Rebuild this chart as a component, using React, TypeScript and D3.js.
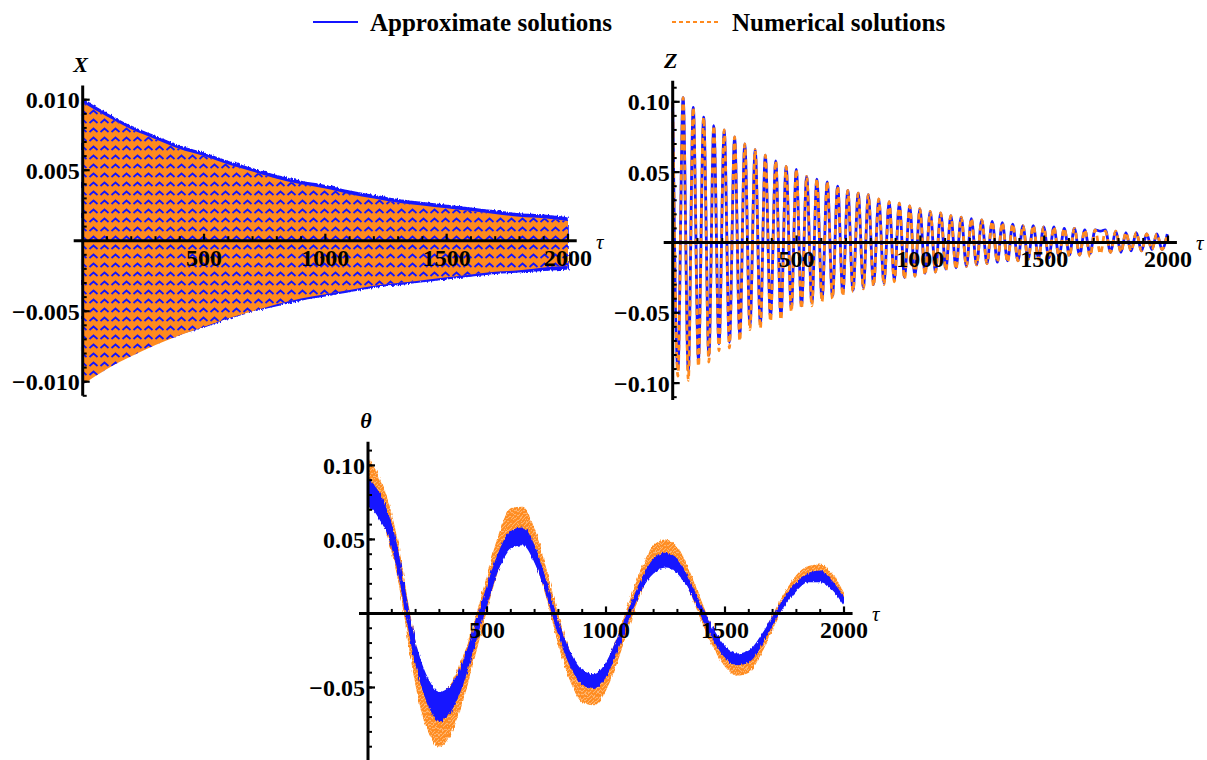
import React, { useEffect, useRef } from "react";
import * as d3 from "d3";

// ---- shared axis ticks ----
const tauTicks = [500, 1000, 1500, 2000];
const tauMinor = [100, 200, 300, 400, 600, 700, 800, 900, 1100, 1200, 1300, 1400, 1600, 1700, 1800, 1900];

// ---- X panel: envelope of the fast oscillation ----
const xEnvTau = [0, 100, 200, 300, 400, 500, 600, 700, 800, 900, 1000, 1100, 1200, 1300, 1400, 1500, 1600, 1700, 1800, 1900, 2000];
const xApproxUpper = [0.0100, 0.0090, 0.0081, 0.0074, 0.0067, 0.0062, 0.0056, 0.0051, 0.0046, 0.0042, 0.0039, 0.0035, 0.0032, 0.0029, 0.0027, 0.0025, 0.0023, 0.0021, 0.0019, 0.0018, 0.0016];
const xApproxLower = [-0.0097, -0.0087, -0.0079, -0.0072, -0.0066, -0.0061, -0.0055, -0.0050, -0.0046, -0.0042, -0.0039, -0.0036, -0.0033, -0.0031, -0.0029, -0.0027, -0.0025, -0.0023, -0.0022, -0.0021, -0.0020];
const xNumerUpper = [0.0098, 0.0088, 0.0079, 0.0072, 0.0065, 0.0060, 0.0054, 0.0049, 0.0044, 0.0040, 0.0037, 0.0033, 0.0030, 0.0027, 0.0025, 0.0023, 0.0021, 0.0019, 0.0017, 0.0016, 0.0014];
const xNumerLower = [-0.0102, -0.0091, -0.0082, -0.0074, -0.0067, -0.0061, -0.0055, -0.0050, -0.0045, -0.0041, -0.0038, -0.0035, -0.0032, -0.0030, -0.0028, -0.0026, -0.0024, -0.0022, -0.0021, -0.0019, -0.0018];
const xTicks = [-0.01, -0.005, 0.005, 0.01];
const xTickLabels = ["\u22120.010", "\u22120.005", "0.005", "0.010"];

// ---- Z panel: extrema of each cycle (max, min, max, ...) ----
const zTau = [0, 21, 42, 63, 83, 104, 125, 146, 166, 187, 208, 229, 250, 271, 291, 312, 333, 354, 374, 395, 416, 437, 458, 479, 499, 520, 541, 562, 582, 603, 624, 645, 666, 687, 707, 728, 749, 770, 790, 811, 832, 853, 874, 895, 915, 936, 957, 978, 998, 1019, 1040, 1061, 1082, 1103, 1123, 1144, 1165, 1186, 1206, 1227, 1248, 1269, 1290, 1311, 1331, 1352, 1373, 1394, 1414, 1435, 1456, 1477, 1498, 1519, 1539, 1560, 1581, 1602, 1622, 1643, 1664, 1685, 1706, 1727, 1747, 1768, 1789, 1810, 1830, 1851, 1872, 1893, 1914, 1935, 1955, 1976, 1997];
const zApprox = [
  0.100, -0.090, 0.103, -0.091, 0.096, -0.083, 0.089, -0.080, 0.083, -0.072, 0.080, -0.071,
  0.075, -0.066, 0.070, -0.059, 0.066, -0.058, 0.062, -0.053, 0.058, -0.052, 0.054, -0.047,
  0.052, -0.045, 0.047, -0.043, 0.045, -0.040, 0.043, -0.038, 0.040, -0.036, 0.037, -0.034,
  0.035, -0.032, 0.034, -0.030, 0.031, -0.029, 0.029, -0.027, 0.028, -0.025, 0.026, -0.024,
  0.024, -0.022, 0.022, -0.021, 0.021, -0.019, 0.019, -0.018, 0.018, -0.017, 0.017, -0.016,
  0.016, -0.015, 0.015, -0.014, 0.014, -0.013, 0.013, -0.013, 0.012, -0.012, 0.012, -0.011,
  0.011, -0.011, 0.011, -0.010, 0.010, -0.009, 0.010, -0.009, 0.009, -0.008, 0.009, 0.008,
  0.009, -0.007, 0.008, -0.007, 0.007, -0.006, 0.007, -0.006, 0.006, -0.005, 0.006, -0.005,
  0.006,
];
const zNumer = [
  0.100, -0.095, 0.103, -0.098, 0.096, -0.088, 0.089, -0.085, 0.083, -0.077, 0.080, -0.075,
  0.075, -0.070, 0.070, -0.062, 0.066, -0.061, 0.062, -0.056, 0.058, -0.055, 0.054, -0.049,
  0.052, -0.047, 0.047, -0.045, 0.045, -0.042, 0.043, -0.040, 0.040, -0.038, 0.037, -0.035,
  0.035, -0.033, 0.034, -0.031, 0.031, -0.030, 0.029, -0.028, 0.028, -0.026, 0.026, -0.024,
  0.024, -0.023, 0.022, -0.021, 0.021, -0.020, 0.019, -0.019, 0.018, -0.017, 0.017, -0.016,
  0.016, -0.015, 0.015, -0.014, 0.014, -0.014, 0.013, -0.013, 0.012, -0.012, 0.012, -0.012,
  0.011, -0.011, 0.011, -0.010, 0.010, -0.010, 0.010, -0.009, 0.009, -0.010, 0.009, -0.008,
  0.008, -0.007, 0.008, -0.007, 0.007, -0.006, 0.007, -0.006, 0.006, -0.005, 0.006, -0.005,
  0.006,
];
const zTicks = [-0.1, -0.05, 0.05, 0.1];
const zTickLabels = ["\u22120.10", "\u22120.05", "0.05", "0.10"];

// ---- theta panel: slow wave (centre) and ripple half-width ----
const thetaTau = [0, 25, 50, 75, 100, 125, 150, 175, 200, 250, 300, 350, 400, 450, 500, 550, 600, 650, 700, 750, 800, 850, 900, 950, 1000, 1050, 1100, 1150, 1200, 1250, 1300, 1350, 1400, 1450, 1500, 1550, 1600, 1650, 1700, 1750, 1800, 1850, 1900, 1950, 2000];
const thetaApprox = [0.082, 0.078, 0.072, 0.064, 0.052, 0.036, 0.014, -0.008, -0.027, -0.052, -0.063, -0.057, -0.040, -0.014, 0.012, 0.036, 0.050, 0.052, 0.040, 0.017, -0.010, -0.031, -0.043, -0.046, -0.038, -0.020, 0.001, 0.020, 0.032, 0.036, 0.032, 0.019, 0.002, -0.014, -0.026, -0.031, -0.029, -0.019, -0.005, 0.008, 0.018, 0.024, 0.025, 0.019, 0.008];
const thetaApproxW = [0.010, 0.009, 0.009, 0.008, 0.008, 0.008, 0.008, 0.008, 0.008, 0.009, 0.010, 0.009, 0.008, 0.007, 0.007, 0.006, 0.006, 0.006, 0.006, 0.005, 0.005, 0.005, 0.005, 0.005, 0.005, 0.005, 0.004, 0.004, 0.005, 0.005, 0.005, 0.004, 0.004, 0.004, 0.004, 0.004, 0.004, 0.004, 0.003, 0.003, 0.003, 0.003, 0.004, 0.003, 0.003];
const thetaNumer = [0.092, 0.086, 0.078, 0.068, 0.054, 0.036, 0.013, -0.012, -0.034, -0.062, -0.072, -0.064, -0.044, -0.016, 0.014, 0.042, 0.059, 0.060, 0.046, 0.020, -0.011, -0.036, -0.050, -0.052, -0.043, -0.023, 0.001, 0.023, 0.038, 0.042, 0.037, 0.022, 0.002, -0.017, -0.030, -0.036, -0.034, -0.023, -0.006, 0.010, 0.022, 0.028, 0.029, 0.023, 0.011];
const thetaNumerW = [0.013, 0.013, 0.013, 0.013, 0.013, 0.013, 0.013, 0.014, 0.015, 0.017, 0.018, 0.017, 0.015, 0.013, 0.012, 0.012, 0.012, 0.012, 0.011, 0.010, 0.010, 0.010, 0.010, 0.010, 0.009, 0.009, 0.008, 0.008, 0.008, 0.008, 0.008, 0.007, 0.007, 0.006, 0.006, 0.006, 0.006, 0.005, 0.005, 0.004, 0.004, 0.004, 0.004, 0.004, 0.003];
const thetaTicks = [-0.05, 0.05, 0.1];
const thetaTickLabels = ["\u22120.05", "0.05", "0.10"];

const BLUE = "#1414ff";
const ORANGE = "#ff8a1e";
const FONT = "'Liberation Serif', 'Times New Roman', serif";
const TICK_FS = 24;

type Sel = d3.Selection<SVGGElement, unknown, null, undefined>;

function drawAxes(
  g: Sel,
  x: d3.ScaleLinear<number, number>,
  y: d3.ScaleLinear<number, number>,
  yTicks: number[],
  yLabels: string[],
  yMinorStep: number,
  name: string,
  nameY: number
) {
  const [yBot, yTop] = y.range();
  const x0 = x(0);
  const y0 = y(0);
  const [dLo, dHi] = y.domain();

  g.append("line")
    .attr("x1", x0 - 9).attr("x2", x(2036))
    .attr("y1", y0).attr("y2", y0)
    .attr("stroke", "#000").attr("stroke-width", 3);
  g.append("line")
    .attr("x1", x0).attr("x2", x0)
    .attr("y1", yTop).attr("y2", yBot)
    .attr("stroke", "#000").attr("stroke-width", 3);

  // x ticks
  g.selectAll(".xminor").data(tauMinor).enter().append("line")
    .attr("x1", (d) => x(d)).attr("x2", (d) => x(d))
    .attr("y1", y0).attr("y2", y0 - 4.5)
    .attr("stroke", "#000").attr("stroke-width", 2);
  g.selectAll(".xmajor").data(tauTicks).enter().append("line")
    .attr("x1", (d) => x(d)).attr("x2", (d) => x(d))
    .attr("y1", y0).attr("y2", y0 - 7)
    .attr("stroke", "#000").attr("stroke-width", 2.2);
  g.selectAll(".xlab").data(tauTicks).enter().append("text")
    .attr("x", (d) => x(d)).attr("y", y0 + 25)
    .attr("text-anchor", "middle")
    .attr("font-family", FONT).attr("font-weight", "bold").attr("font-size", TICK_FS)
    .text((d) => String(d));

  // y ticks
  const minor: number[] = [];
  for (let v = Math.ceil(dLo / yMinorStep) * yMinorStep; v <= dHi; v += yMinorStep) {
    if (Math.abs(v) > yMinorStep / 2) minor.push(v);
  }
  g.selectAll(".yminor").data(minor).enter().append("line")
    .attr("x1", x0).attr("x2", x0 + 4)
    .attr("y1", (d) => y(d)).attr("y2", (d) => y(d))
    .attr("stroke", "#000").attr("stroke-width", 2);
  g.selectAll(".ymajor").data(yTicks).enter().append("line")
    .attr("x1", x0).attr("x2", x0 + 7)
    .attr("y1", (d) => y(d)).attr("y2", (d) => y(d))
    .attr("stroke", "#000").attr("stroke-width", 2.2);
  g.selectAll(".ylab").data(yTicks).enter().append("text")
    .attr("x", x0 - 3).attr("y", (d) => y(d))
    .attr("dy", "0.35em")
    .attr("text-anchor", "end")
    .attr("font-family", FONT).attr("font-weight", "bold").attr("font-size", TICK_FS)
    .text((_, i) => yLabels[i]);

  g.append("text")
    .attr("x", x0 - 2).attr("y", nameY)
    .attr("text-anchor", "middle")
    .attr("font-family", FONT).attr("font-weight", "bold").attr("font-style", "italic")
    .attr("font-size", 22)
    .text(name);
  // tau sits just right of the last tick label, raised like a superscript
  g.append("text")
    .attr("x", x(2000) + TICK_FS + 4).attr("y", y0 + 8)
    .attr("text-anchor", "start")
    .attr("font-family", FONT).attr("font-style", "italic")
    .attr("font-size", 21)
    .text("\u03c4");
}

const App: React.FC = () => {
  const svgRef = useRef<SVGSVGElement | null>(null);

  useEffect(() => {
    if (!svgRef.current) return;
    const svg = d3.select(svgRef.current);
    svg.selectAll("*").remove();
    const defs = svg.append("defs");

    // texture for the dense X oscillation
    const weave = defs.append("pattern")
      .attr("id", "weave").attr("patternUnits", "userSpaceOnUse")
      .attr("width", 11).attr("height", 9);
    weave.append("path").attr("d", "M1.5,6 L5.5,2.5 L9.5,6")
      .attr("fill", "none").attr("stroke", BLUE).attr("stroke-width", 1.8);

    const hatch = defs.append("pattern")
      .attr("id", "hatch").attr("patternUnits", "userSpaceOnUse")
      .attr("width", 4).attr("height", 4);
    hatch.append("rect").attr("width", 4).attr("height", 4).attr("fill", ORANGE).attr("opacity", 0.55);
    hatch.append("path").attr("d", "M0,4 L4,0 M-1,1 L1,-1 M3,5 L5,3")
      .attr("stroke", ORANGE).attr("stroke-width", 2);

    // ragged edge for the banded (fast ripple) curves
    const rough = defs.append("filter").attr("id", "rough")
      .attr("x", "-5%").attr("y", "-5%").attr("width", "110%").attr("height", "110%");
    rough.append("feTurbulence").attr("type", "fractalNoise")
      .attr("baseFrequency", "0.7 0.12").attr("numOctaves", 1).attr("seed", 3).attr("result", "n");
    rough.append("feDisplacementMap").attr("in", "SourceGraphic").attr("in2", "n")
      .attr("scale", 4).attr("xChannelSelector", "R").attr("yChannelSelector", "G");

    // ---- legend ----
    const leg = svg.append("g");
    leg.append("line").attr("x1", 313).attr("x2", 358).attr("y1", 22).attr("y2", 22)
      .attr("stroke", BLUE).attr("stroke-width", 2);
    leg.append("text").attr("x", 370).attr("y", 31)
      .attr("font-family", FONT).attr("font-weight", "bold").attr("font-size", 25)
      .text("Approximate solutions");
    leg.append("line").attr("x1", 672).attr("x2", 718).attr("y1", 22).attr("y2", 22)
      .attr("stroke", ORANGE).attr("stroke-width", 2).attr("stroke-dasharray", "4,3");
    leg.append("text").attr("x", 732).attr("y", 31)
      .attr("font-family", FONT).attr("font-weight", "bold").attr("font-size", 25)
      .text("Numerical solutions");

    // ---- X panel ----
    {
      const g = svg.append("g");
      const x = d3.scaleLinear().domain([0, 2000]).range([82.7, 568]);
      const y = d3.scaleLinear().domain([-0.011, 0.011]).range([395.8, 85.6]);
      const band = (hi: number[], lo: number[]) =>
        d3.area<number>()
          .x((_, i) => x(xEnvTau[i]))
          .y0((_, i) => y(lo[i]))
          .y1((_, i) => y(hi[i]))
          .curve(d3.curveMonotoneX)(xEnvTau);
      g.append("path").attr("d", band(xApproxUpper, xApproxLower)).attr("fill", BLUE)
        .attr("stroke", BLUE).attr("stroke-width", 1.5).attr("filter", "url(#rough)");
      const numerPath = band(xNumerUpper, xNumerLower) as string;
      g.append("path").attr("d", numerPath).attr("fill", ORANGE);
      defs.append("clipPath").attr("id", "xclip").append("path").attr("d", numerPath);
      g.append("rect").attr("x", 82).attr("y", 85).attr("width", 490).attr("height", 312)
        .attr("fill", "url(#weave)").attr("clip-path", "url(#xclip)");
      drawAxes(g, x, y, xTicks, xTickLabels, 0.001, "X", 72);
    }

    // ---- Z panel ----
    {
      const g = svg.append("g");
      const x = d3.scaleLinear().domain([0, 2000]).range([672.7, 1168]);
      const y = d3.scaleLinear().domain([-0.112, 0.115]).range([400, 80.7]);
      const line = (vals: number[]) =>
        d3.line<number>()
          .x((_, i) => x(zTau[i]))
          .y((d) => y(d))
          .curve(d3.curveMonotoneX)(vals);
      g.append("path").attr("d", line(zApprox)).attr("fill", "none")
        .attr("stroke", BLUE).attr("stroke-width", 2.8);
      g.append("path").attr("d", line(zNumer)).attr("fill", "none")
        .attr("stroke", ORANGE).attr("stroke-width", 2.8).attr("stroke-dasharray", "6,4");
      drawAxes(g, x, y, zTicks, zTickLabels, 0.01, "Z", 68);
    }

    // ---- theta panel ----
    {
      const g = svg.append("g");
      const x = d3.scaleLinear().domain([0, 2000]).range([368, 844]);
      const y = d3.scaleLinear().domain([-0.1, 0.116]).range([761.5, 441.7]);
      const band = (c: number[], w: number[]) =>
        d3.area<number>()
          .x((_, i) => x(thetaTau[i]))
          .y0((d, i) => y(d - w[i]))
          .y1((d, i) => y(d + w[i]))
          .curve(d3.curveMonotoneX)(c);
      g.append("path").attr("d", band(thetaNumer, thetaNumerW)).attr("fill", "url(#hatch)")
        .attr("filter", "url(#rough)");
      g.append("path").attr("d", band(thetaApprox, thetaApproxW)).attr("fill", BLUE)
        .attr("filter", "url(#rough)");
      drawAxes(g, x, y, thetaTicks, thetaTickLabels, 0.01, "\u03b8", 428);
    }
  }, []);

  return (
    <svg
      ref={svgRef}
      width={1207}
      height={760}
      style={{ position: "absolute", left: 0, top: 0, background: "#fff" }}
    />
  );
};

export default App;
